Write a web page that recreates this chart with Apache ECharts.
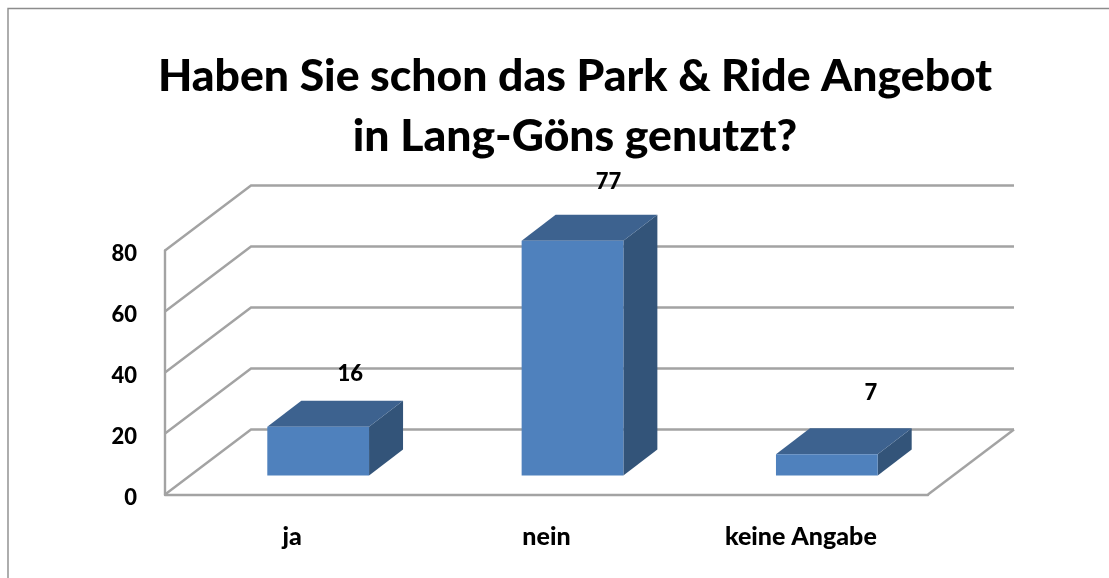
<!DOCTYPE html>
<html>
<head>
<meta charset="utf-8">
<style>html,body{margin:0;padding:0;background:#fff}#c{width:1109px;height:578px}</style>
<script src="https://cdn.jsdelivr.net/npm/echarts@6/dist/echarts.min.js"></script>
</head>
<body>
<div id="c"></div>
<script>
const titleLines = ['Haben Sie schon das Park & Ride Angebot', 'in Lang-Göns genutzt?'];
const categories = ['ja', 'nein', 'keine Angabe'];
const answers = [16, 77, 7];
const yTicks = [0, 20, 40, 60, 80];

const FONT = 'Lato, "Open Sans", sans-serif';
const GRID_COLOR = '#a3a3a3';
const WALL_DX = 86, WALL_DY = -65;
const BAR_DX = 26, BAR_DY = -19, BAR_DEPTH_X = 34, BAR_DEPTH_Y = -26;
const LABEL_SHIFT = [[32, -53], [36, -59], [44, -61]];

function renderWall(params, api) {
  const rect = params.coordSys;
  const p = api.coord([0, api.value(1)]);
  const lx = rect.x, ly = p[1];
  const bx = lx + WALL_DX, by = ly + WALL_DY;
  const right = rect.x + rect.width + WALL_DX;
  const style = { stroke: GRID_COLOR, lineWidth: 2.4, fill: null };
  const children = [{
    type: 'polyline', silent: true,
    shape: { points: [[lx, ly], [bx, by], [right, by]] }, style: style
  }];
  if (api.value(1) === 0) {
    children.push({
      type: 'line', silent: true,
      shape: { x1: rect.x + rect.width, y1: ly, x2: right, y2: by }, style: style
    });
  }
  return { type: 'group', children: children };
}

function renderBar(params, api) {
  const i = api.value(0), v = api.value(1);
  const base = api.coord([i, 0]), top = api.coord([i, v]);
  const w = api.size([1, 0])[0] * 0.4;
  const x0 = base[0] - w / 2 + BAR_DX, x1 = x0 + w;
  const yB = base[1] + BAR_DY, yT = top[1] + BAR_DY;
  const dx = BAR_DEPTH_X, dy = BAR_DEPTH_Y;
  const shift = LABEL_SHIFT[i];
  return {
    type: 'group',
    children: [
      { type: 'polygon', shape: { points: [[x1, yT], [x1 + dx, yT + dy], [x1 + dx, yB + dy], [x1, yB]] }, style: { fill: '#335479' } },
      { type: 'polygon', shape: { points: [[x0, yT], [x0 + dx, yT + dy], [x1 + dx, yT + dy], [x1, yT]] }, style: { fill: '#3d628f' } },
      { type: 'rect', shape: { x: x0, y: yT, width: w, height: yB - yT }, style: { fill: '#4f81bd' } },
      { type: 'text', x: base[0] + BAR_DX + shift[0], y: yT + shift[1],
        style: { text: String(v), fill: '#000', fontFamily: 'Lato', fontWeight: 900, fontSize: 22, align: 'center', verticalAlign: 'middle' } }
    ]
  };
}

const chart = echarts.init(document.getElementById('c'), null, { renderer: 'canvas' });
chart.setOption({
  animation: false,
  backgroundColor: '#fff',
  title: {
    text: titleLines.join('\n'),
    left: 570, top: 42, textAlign: 'center',
    textStyle: { fontFamily: FONT, fontWeight: 900, fontSize: 44.5, lineHeight: 60, color: '#000' }
  },
  graphic: [{
    type: 'polyline', silent: true,
    shape: { points: [[8, 578], [8, 8.5], [1109, 8.5]] },
    style: { stroke: '#8c8c8c', lineWidth: 1.4, fill: null }
  }],
  grid: { left: 165, right: 181, top: 250.5, bottom: 83.5 },
  xAxis: {
    type: 'category', data: categories,
    axisTick: { show: false },
    axisLine: { show: true, onZero: false, lineStyle: { color: GRID_COLOR, width: 2.4 } },
    axisLabel: { color: '#000', fontFamily: FONT, fontWeight: 900, fontSize: 25, margin: 30 }
  },
  yAxis: {
    type: 'value', min: 0, max: 80, interval: 20,
    splitLine: { show: false },
    axisTick: { show: false },
    axisLine: { show: true, lineStyle: { color: GRID_COLOR, width: 2.4 } },
    axisLabel: {
      margin: 28, formatter: '{t|{value}}',
      rich: { t: { color: '#000', fontFamily: 'Lato', fontWeight: 900, fontSize: 22, padding: [6, 0, 0, 0] } }
    }
  },
  series: [
    { type: 'custom', z: 1, clip: false, renderItem: renderWall, data: yTicks.map(t => [0, t]), silent: true },
    { type: 'custom', z: 2, clip: false, renderItem: renderBar, data: answers.map((v, i) => [i, v]), silent: true }
  ]
});
</script>
</body>
</html>
